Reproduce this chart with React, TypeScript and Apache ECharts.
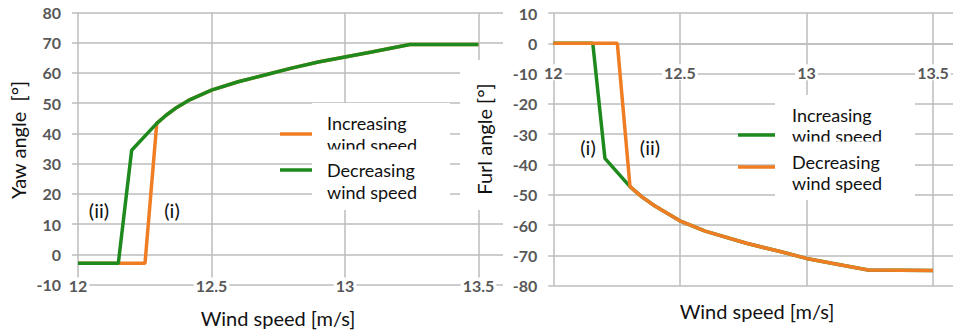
import React, { useEffect, useRef } from "react";
import * as echarts from "echarts";

// ---- data ----
const xTickValues = [12, 12.5, 13, 13.5];

// Left chart: yaw angle
const yawIncStepX = [12, 12.251];
const yawIncStepY = [-3, -3];
const yawDecStepX = [12, 12.151, 12.201];
const yawDecStepY = [-3, -3, 34.4];
const yawCurveX = [12.295, 12.33, 12.37, 12.42, 12.5, 12.6, 12.707, 12.8, 12.9, 13, 13.1, 13.243, 13.5];
const yawCurveY = [43.3, 46.0, 48.6, 51.2, 54.3, 57.1, 59.5, 61.6, 63.6, 65.3, 66.9, 69.4, 69.4];

// Right chart: furl angle
const furlIncStepX = [12, 12.156, 12.204];
const furlIncStepY = [0, 0, -38];
const furlDecStepX = [12, 12.253];
const furlDecStepY = [0, 0];
const furlCurveX = [12.303, 12.35, 12.4, 12.5, 12.6, 12.763, 12.9, 13, 13.1, 13.244, 13.5];
const furlCurveY = [-47.3, -50.7, -53.6, -58.6, -62, -66, -68.8, -71, -72.6, -74.8, -75];

const seriesNames = ["Increasing wind speed", "Decreasing wind speed"];

const ORANGE = "#EE7D24";
const GREEN = "#1E8A1E";
const GRID = "#bdbdbd";

function pairs(xs: number[], ys: number[]) {
  return xs.map((x, i) => [x, ys[i]]);
}

export default function App() {
  const ref = useRef<HTMLDivElement>(null);
  useEffect(() => {
    if (!ref.current) return;
    const chart = echarts.init(ref.current, undefined, { renderer: "svg" });

    const tickLabel = {
      color: "#585858",
      fontFamily: "Lato",
      fontSize: 16,
      fontWeight: "bold" as const,
    };
    const split = { show: true, lineStyle: { color: GRID, width: 1.5 } };
    const lineW = 3.5;

    const txt = (text: string, x: number, y: number, extra: any = {}, size = 18) => ({
      type: "text",
      x,
      y,
      z: 120,
      ...extra,
      style: {
        text,
        fontFamily: "Lato",
        fontSize: size,
        fill: "#111",
        align: extra.align || "left",
        textAlign: extra.align || "left",
        verticalAlign: "middle",
        textVerticalAlign: "middle",
      },
    });

    const rightTop = 13;
    const rightHeight = 272.7;
    const rightZeroY = 43.3;

    const option: any = {
      animation: false,
      backgroundColor: "#fff",
      grid: [
        { left: 78, top: 12.5, width: 425, height: 272, outerBoundsMode: "none" },
        { left: 553.3, top: rightTop, width: 399.7, height: rightHeight, outerBoundsMode: "none" },
      ],
      xAxis: [
        {
          gridIndex: 0,
          type: "value",
          min: xTickValues[0],
          max: 13.592,
          interval: 0.5,
          axisLine: { show: false, onZero: false },
          axisTick: { show: false },
          splitLine: { ...split, showMaxLine: false },
          axisLabel: {
            ...tickLabel,
            margin: -7,
            showMaxLabel: false,
            backgroundColor: "#fff",
            padding: [0, 2],
          },
        },
        {
          gridIndex: 1,
          type: "value",
          position: "bottom",
          offset: -(rightTop + rightHeight - rightZeroY),
          min: xTickValues[0],
          max: 13.579,
          interval: 0.5,
          axisLine: { show: true, onZero: false, lineStyle: { color: GRID, width: 1.5 } },
          axisTick: { show: false },
          splitLine: { ...split, showMaxLine: false },
          axisLabel: {
            ...tickLabel,
            margin: 21,
            showMaxLabel: false,
            backgroundColor: "#fff",
            padding: [0, 2],
          },
        },
      ],
      yAxis: [
        {
          gridIndex: 0,
          type: "value",
          min: -10,
          max: 80,
          interval: 10,
          axisLine: { show: false },
          axisTick: { show: true, length: 6, lineStyle: { color: GRID, width: 1.5 } },
          splitLine: split,
          axisLabel: { ...tickLabel, margin: 17, padding: [4, 0, 0, 0] },
        },
        {
          gridIndex: 1,
          type: "value",
          min: -80,
          max: 10,
          interval: 10,
          axisLine: { show: false },
          axisTick: { show: true, length: 5, lineStyle: { color: GRID, width: 1.5 } },
          splitLine: split,
          axisLabel: { ...tickLabel, margin: 16, padding: [4, 0, 0, 0] },
        },
      ],
      series: [
        {
          name: seriesNames[0],
          type: "line",
          xAxisIndex: 0,
          yAxisIndex: 0,
          showSymbol: false,
          lineStyle: { color: ORANGE, width: lineW },
          itemStyle: { color: ORANGE },
          data: pairs([...yawIncStepX, ...yawCurveX], [...yawIncStepY, ...yawCurveY]),
        },
        {
          name: seriesNames[1],
          type: "line",
          xAxisIndex: 0,
          yAxisIndex: 0,
          showSymbol: false,
          lineStyle: { color: GREEN, width: lineW },
          itemStyle: { color: GREEN },
          data: pairs([...yawDecStepX, ...yawCurveX], [...yawDecStepY, ...yawCurveY]),
        },
        {
          name: seriesNames[0],
          type: "line",
          xAxisIndex: 1,
          yAxisIndex: 1,
          showSymbol: false,
          lineStyle: { color: GREEN, width: lineW },
          itemStyle: { color: GREEN },
          data: pairs([...furlIncStepX, ...furlCurveX], [...furlIncStepY, ...furlCurveY]),
        },
        {
          name: seriesNames[1],
          type: "line",
          xAxisIndex: 1,
          yAxisIndex: 1,
          showSymbol: false,
          lineStyle: { color: ORANGE, width: lineW },
          itemStyle: { color: ORANGE },
          data: pairs([...furlDecStepX, ...furlCurveX], [...furlDecStepY, ...furlCurveY]),
        },
      ],
      graphic: [
        // Right chart y-title background box covering left chart
        { type: "rect", z: 110, shape: { x: 460, y: 60, width: 43, height: 150 }, style: { fill: "#fff" } },
        // Left legend
        { type: "line", z: 110, shape: { x1: 280, y1: 134, x2: 312, y2: 134 }, style: { stroke: ORANGE, lineWidth: lineW } },
        { type: "line", z: 110, shape: { x1: 280, y1: 170, x2: 312, y2: 170 }, style: { stroke: GREEN, lineWidth: lineW } },
        { type: "rect", z: 110, shape: { x: 312, y: 103, width: 138, height: 107 }, style: { fill: "#fff" } },
        txt("Increasing", 327, 123),
        txt("wind speed", 327, 145),
        { type: "rect", z: 121, shape: { x: 320, y: 149.5, width: 100, height: 10 }, style: { fill: "#fff" } },
        txt("Decreasing", 327, 170),
        txt("wind speed", 327, 192),
        // Right legend
        { type: "line", z: 110, shape: { x1: 738, y1: 135, x2: 775, y2: 135 }, style: { stroke: GREEN, lineWidth: lineW } },
        { type: "line", z: 110, shape: { x1: 738, y1: 167, x2: 775, y2: 167 }, style: { stroke: ORANGE, lineWidth: lineW } },
        { type: "rect", z: 110, shape: { x: 775, y: 95, width: 140, height: 105 }, style: { fill: "#fff" } },
        txt("Increasing", 792, 115),
        txt("wind speed", 792, 136),
        { type: "rect", z: 121, shape: { x: 785, y: 141.5, width: 100, height: 9 }, style: { fill: "#fff" } },
        txt("Decreasing", 792, 162),
        txt("wind speed", 792, 183),
        // Axis titles
        txt("Yaw angle  [°]", 18, 140, { rotation: Math.PI / 2, align: "center" }, 20),
        txt("Furl angle [°]", 484, 139, { rotation: Math.PI / 2, align: "center" }, 20),
        txt("Wind speed [m/s]", 278, 318, { align: "center" }, 20),
        txt("Wind speed [m/s]", 757, 311, { align: "center" }, 20),
        // Annotations
        txt("(ii)", 99, 210, { align: "center" }, 20),
        txt("(i)", 172, 210, { align: "center" }, 20),
        txt("(i)", 588, 147, { align: "center" }, 20),
        txt("(ii)", 650, 147, { align: "center" }, 20),
      ],
    };

    chart.setOption(option);
    return () => chart.dispose();
  }, []);

  return (
    <div
      ref={ref}
      style={{ position: "absolute", left: 0, top: 0, width: 953, height: 331 }}
    />
  );
}
